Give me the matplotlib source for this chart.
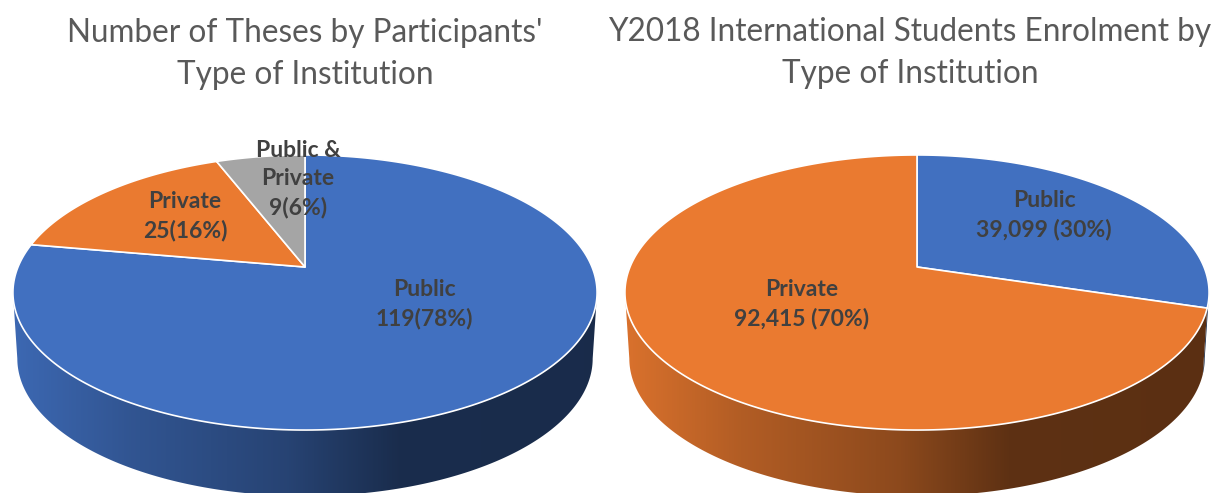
import numpy as np
from matplotlib import pyplot as plt
from matplotlib.colors import LinearSegmentedColormap, to_rgb
from matplotlib.patches import Polygon

# left pie
left_names = ['Public', 'Private', 'Public &\nPrivate']
left_values = [119, 25, 9]
left_title = "Number of Theses by Participants'\nType of Institution"

# right pie
right_names = ['Public', 'Private']
right_values = [39099, 92415]
right_title = 'Y2018 International Students Enrolment by\nType of Institution'

blue = '#4170C0'
orange = '#EA7A30'
gray = '#A5A5A5'

# perspective of the disc, in pixels
TILT = 0.1855
RX = 287.0
RY = 132.8
APEX_Y = 267.0
DEPTH = 66.0
BOTTOM_SCALE = 0.985


def project(theta,cx,scale=1.0,drop=0.0):
    # theta runs clockwise from 12 o'clock
    u = np.sin(theta)
    v = np.cos(theta)
    w = 1 + TILT*v
    x = cx + scale*RX*u/w
    y = APEX_Y + drop - RY*v/w
    return x,y


def draw_wall(ax,cx,t1,t2,colour):
    # only the part of the rim facing the viewer has a side wall
    limit = np.arccos(-TILT)
    lo = max(t1,limit)
    hi = min(t2,2*np.pi-limit)
    if hi <= lo:
        return
    t = np.linspace(lo,hi,200)
    xt,yt = project(t,cx)
    xb,yb = project(t,cx,BOTTOM_SCALE,DEPTH)
    pts = np.column_stack([np.r_[xt,xb[::-1]],np.r_[yt,yb[::-1]]])

    # shading: lit on the left, darkest a bit right of the middle, then flat
    base = np.array(to_rgb(colour))
    stops = [(0,base*0.93),(0.2,base*0.76),(0.47,base*0.6),(0.66,base*0.4),(1,base*0.39)]
    cmap = LinearSegmentedColormap.from_list('wall',stops,256)
    span_left = cx-RX*1.02
    span_right = cx+RX*1.02
    grad = np.linspace(0,1,512)[None,:]
    poly = Polygon(pts,closed=True,fc='none',ec='none')
    ax.add_patch(poly)
    img = ax.imshow(grad,extent=(span_left,span_right,493,0),aspect='auto',
                    cmap=cmap,interpolation='bilinear',zorder=1)
    img.set_clip_path(poly)


def draw_pie(ax,cx,values,colours):
    values = np.array(values,dtype=float)
    edges = np.r_[0,np.cumsum(values)]/values.sum()*2*np.pi
    for i in range(len(values)):
        draw_wall(ax,cx,edges[i],edges[i+1],colours[i])
    for i in range(len(values)):
        t = np.linspace(edges[i],edges[i+1],300)
        x,y = project(t,cx)
        pts = np.column_stack([np.r_[cx,x],np.r_[APEX_Y,y]])
        ax.add_patch(Polygon(pts,closed=True,fc=colours[i],ec='white',lw=1.2,
                             joinstyle='round',zorder=2))


def main():
    fig = plt.figure(figsize=(12.15,4.93),dpi=100)
    ax = fig.add_axes([0,0,1,1])

    draw_pie(ax,305,left_values,[blue,orange,gray])
    draw_pie(ax,917,right_values,[blue,orange])

    ax.set_xlim(0,1215)
    ax.set_ylim(493,0)
    ax.axis('off')

    title_font = {'family':'Lato','color':'#595959','size':22.7,
                  'ha':'center','va':'center','linespacing':1.5,'zorder':5}
    ax.text(305,54,left_title,**title_font)
    ax.text(910,53,right_title,**title_font)

    label_font = {'family':'Lato','weight':'bold','color':'#404040','size':16.5,
                  'ha':'center','va':'center','linespacing':1.42,'zorder':5}

    total = sum(left_values)
    pos = [(424,304),(185,216),(298,179)]
    for name,val,(x,y) in zip(left_names,left_values,pos):
        ax.text(x,y,'%s\n%d(%d%%)'%(name,val,round(100*val/total)),**label_font)

    total = sum(right_values)
    pos = [(1044,215),(802,304)]
    for name,val,(x,y) in zip(right_names,right_values,pos):
        ax.text(x,y,'%s\n%s (%d%%)'%(name,format(val,','),round(100*val/total)),**label_font)

    plt.savefig('out.png',dpi=100)


main()
